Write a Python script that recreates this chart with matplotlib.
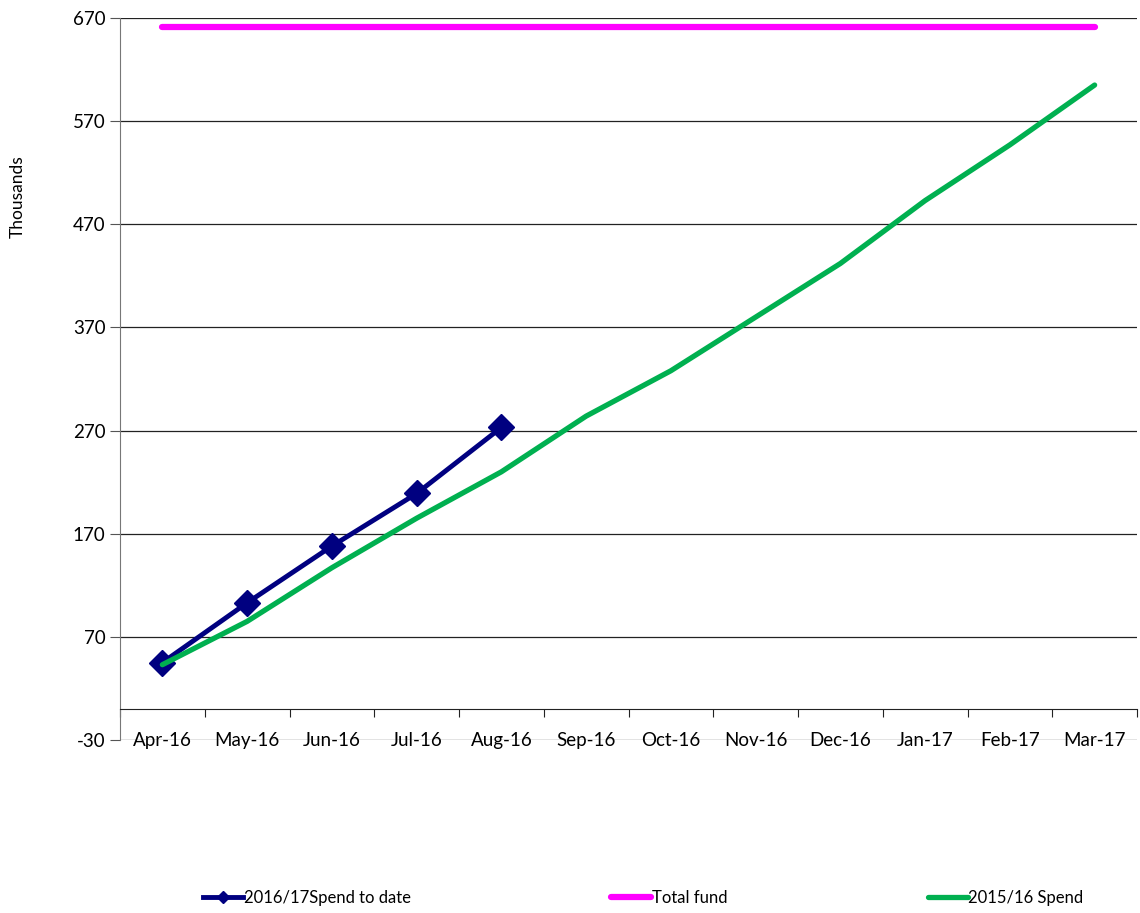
import numpy as np
import matplotlib.pyplot as plt
from matplotlib.lines import Line2D

plt.rcParams['font.family'] = ['Lato', 'DejaVu Sans']
plt.rcParams['axes.unicode_minus'] = False

# Data
months = ['Apr-16', 'May-16', 'Jun-16', 'Jul-16', 'Aug-16', 'Sep-16',
          'Oct-16', 'Nov-16', 'Dec-16', 'Jan-17', 'Feb-17', 'Mar-17']
spend_1617 = [45, 103, 158, 209, 273]
total_fund = [661] * 12
spend_1516 = [43, 85, 137, 185, 230, 284, 328, 380, 432, 493, 547, 605]
yticks = [-30, 70, 170, 270, 370, 470, 570, 670]
labels = ['2016/17Spend to date', 'Total fund', '2015/16 Spend']

fig = plt.figure(figsize=(11.4, 9.13), dpi=100)
ax = fig.add_axes([120 / 1140, 1 - 740 / 913, 1017 / 1140, 722 / 913])

x = np.arange(len(months))
ax.plot(x[:len(spend_1617)], spend_1617, color='#000080', lw=3.5, marker='D',
        markersize=13, zorder=4)
ax.plot(x, total_fund, color='#FF00FF', lw=4.5, solid_capstyle='round', zorder=3)
ax.plot(x, spend_1516, color='#00B050', lw=3.8, solid_capstyle='round', zorder=5)

ax.set_ylim(-30, 670)
ax.set_xlim(-0.5, 11.5)
ax.set_yticks(yticks)
ax.tick_params(axis='y', labelsize=13.5, length=7, width=0.8, color='#555555')
for t in yticks:
    ax.axhline(t, color='#222222', lw=0.9, zorder=1)

# category axis sits at zero
ax.spines['bottom'].set_position(('data', 0))
ax.spines['bottom'].set_color('#222222')
ax.spines['top'].set_visible(False)
ax.spines['right'].set_visible(False)
ax.spines['left'].set_color('#777777')
ax.set_xticks(np.arange(-0.5, 12, 1))
ax.set_xticklabels([])
ax.tick_params(axis='x', direction='out', length=6, width=0.8, color='#222222')
for i, m in enumerate(months):
    ax.text(i, -30, m, ha='center', va='center', fontsize=13.5)

fig.text(18 / 1140, 1 - 197 / 913, 'Thousands', rotation=90, ha='center',
         va='center', fontsize=12.5)

handles = [
    Line2D([], [], color='#000080', lw=3.5, marker='D', markersize=6),
    Line2D([], [], color='#FF00FF', lw=4.5, solid_capstyle='round'),
    Line2D([], [], color='#00B050', lw=3.8, solid_capstyle='round'),
]
fig.legend(handles, labels, loc='center', bbox_to_anchor=(0.5645, 0.0165), ncol=3,
           frameon=False, fontsize=12, handlelength=2.4, handletextpad=0.05,
           columnspacing=12.0)

fig.savefig('out.png', dpi=100)
